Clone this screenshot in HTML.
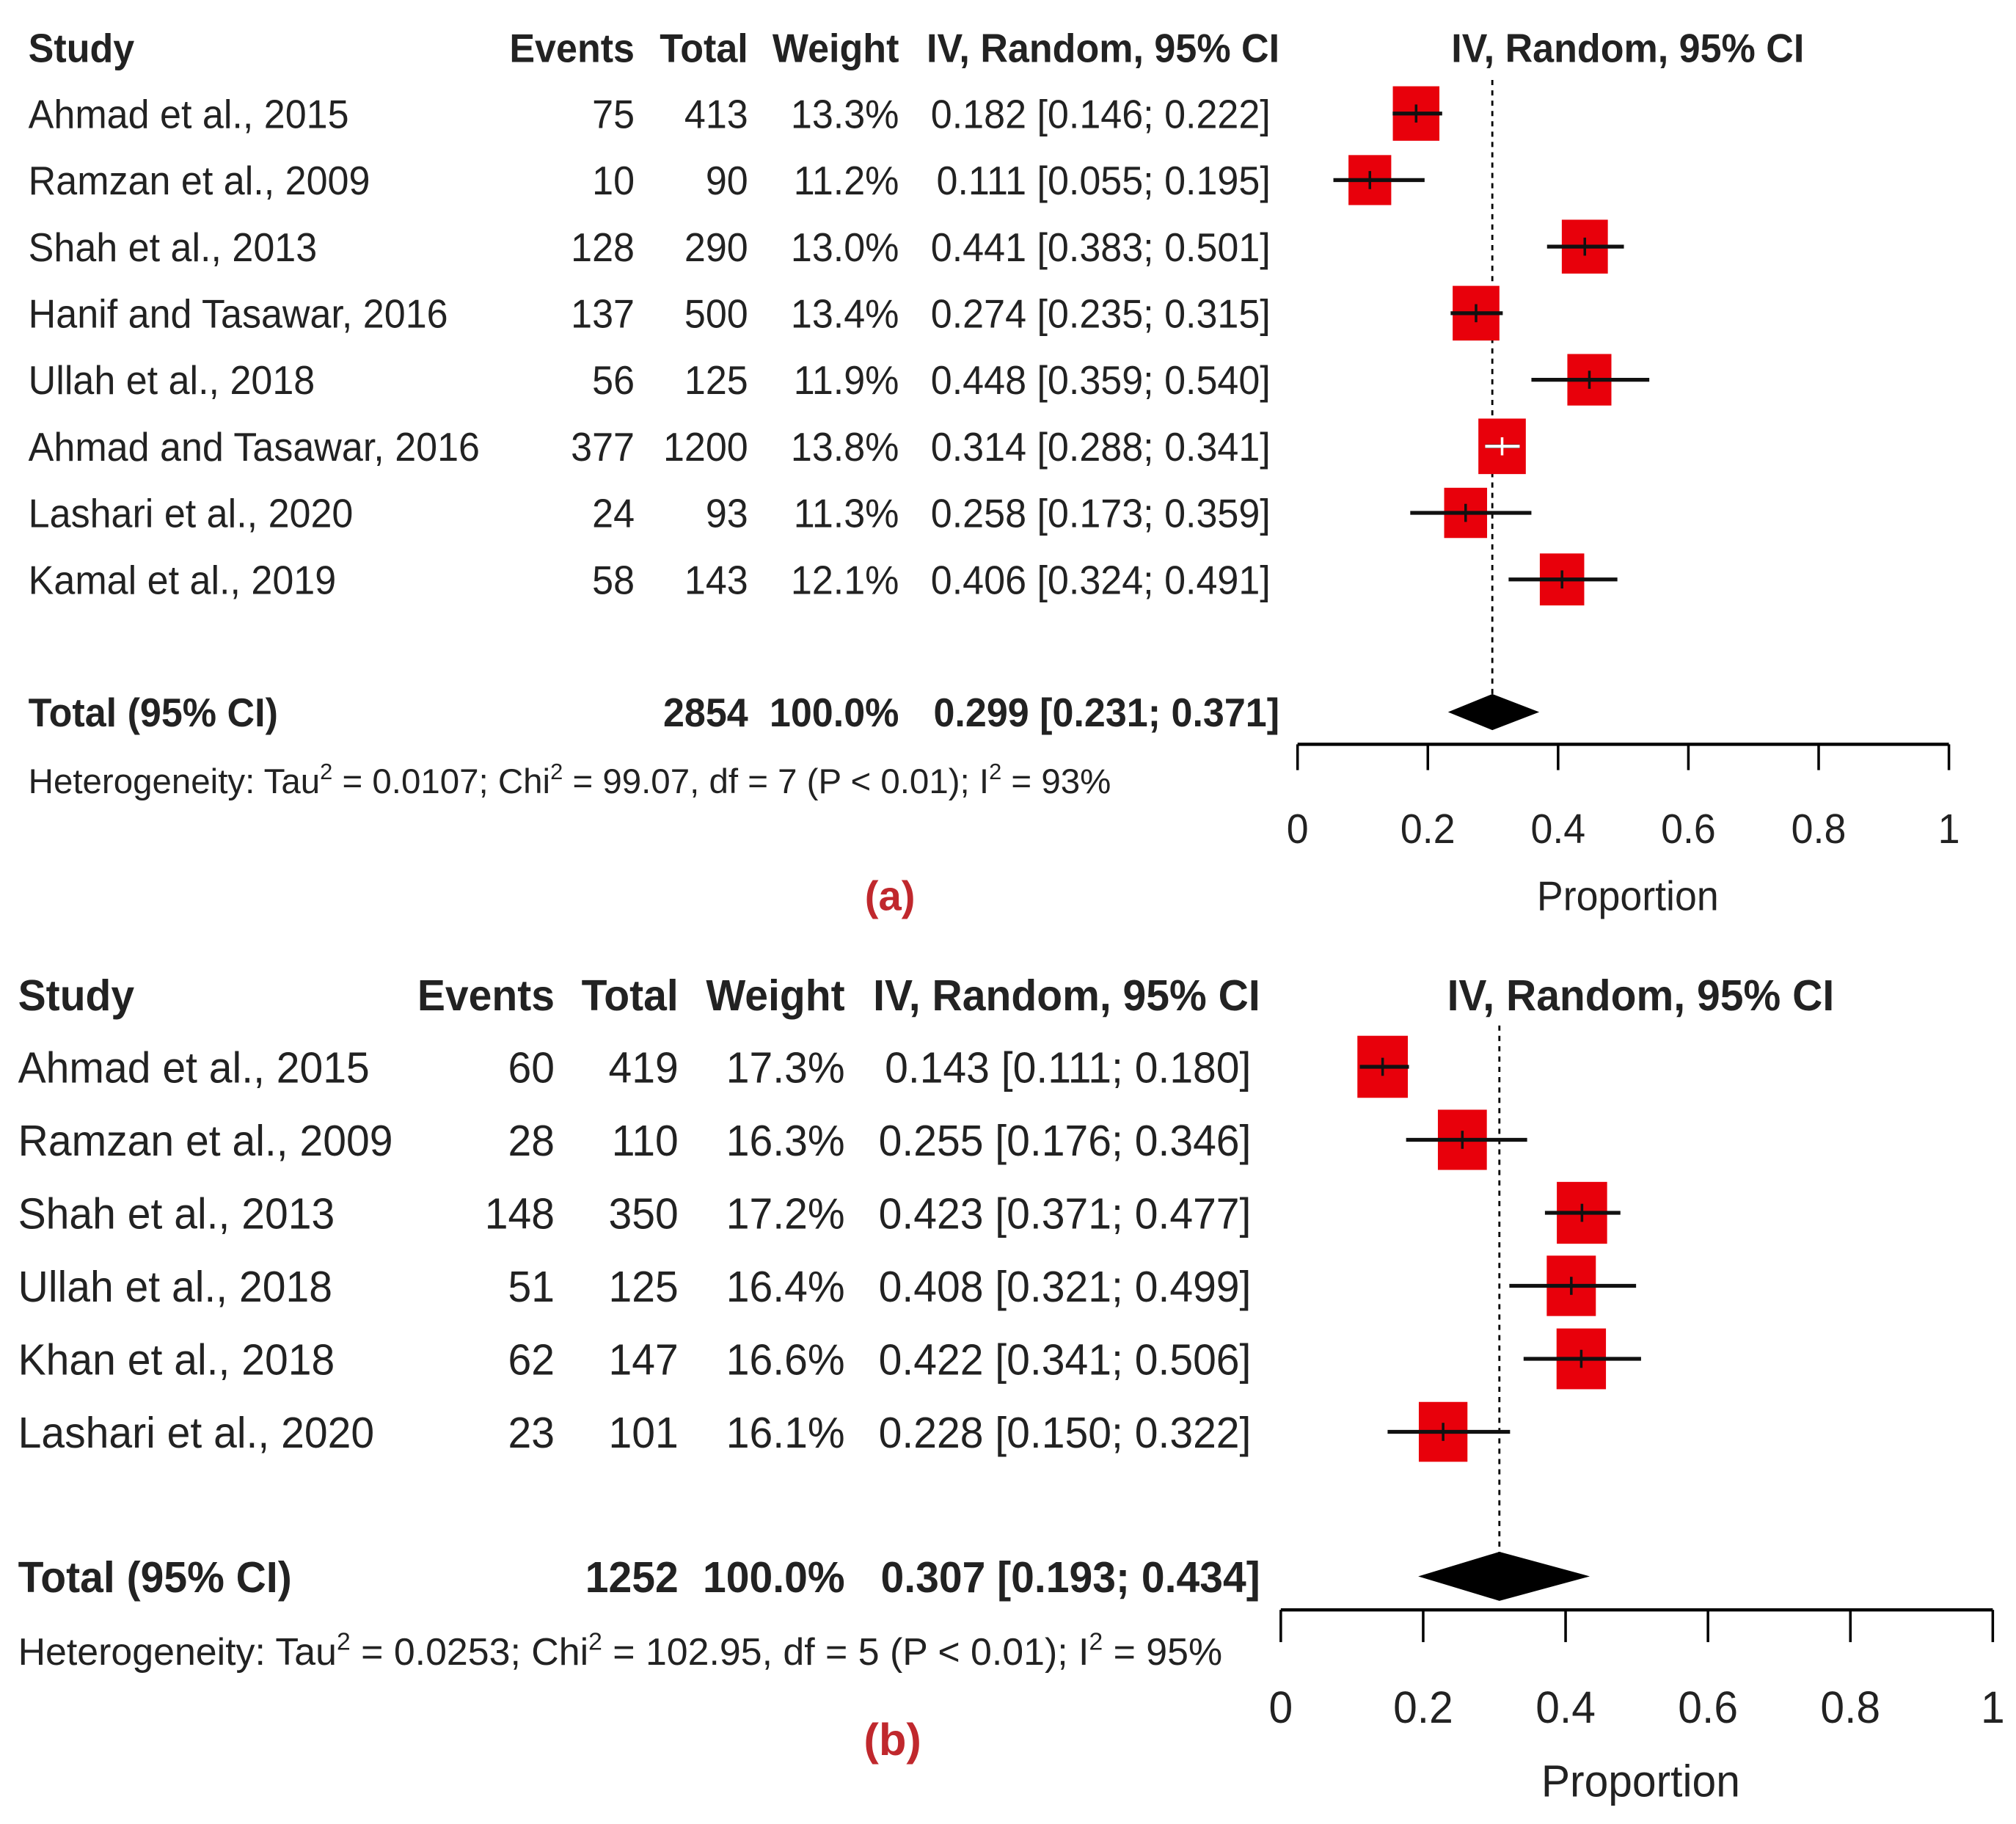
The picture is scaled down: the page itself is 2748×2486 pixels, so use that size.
<!DOCTYPE html>
<html><head><meta charset="utf-8"><style>
html,body{margin:0;padding:0;background:#fff}
svg{display:block}
text{font-family:"Liberation Sans",sans-serif;fill:#222}
.b{font-weight:bold}
</style></head><body>
<svg id="chart" width="2748" height="2486" viewBox="0 0 1563 1414" preserveAspectRatio="none" xmlns="http://www.w3.org/2000/svg">
<g id="pa"></g>
<g id="pb"></g>
</svg>
<script>
// Panel A data
const studiesA = ["Ahmad et al., 2015","Ramzan et al., 2009","Shah et al., 2013","Hanif and Tasawar, 2016","Ullah et al., 2018","Ahmad and Tasawar, 2016","Lashari et al., 2020","Kamal et al., 2019"];
const eventsA = [75,10,128,137,56,377,24,58];
const totalsA = [413,90,290,500,125,1200,93,143];
const weightsA = [13.3,11.2,13.0,13.4,11.9,13.8,11.3,12.1];
const propA = [0.182,0.111,0.441,0.274,0.448,0.314,0.258,0.406];
const lowA = [0.146,0.055,0.383,0.235,0.359,0.288,0.173,0.324];
const highA = [0.222,0.195,0.501,0.315,0.540,0.341,0.359,0.491];
const pooledA = [0.299,0.231,0.371];
const sumA = "2854";
const hetA = ["0.0107","99.07","7","0.01","93"];
// Panel B data
const studiesB = ["Ahmad et al., 2015","Ramzan et al., 2009","Shah et al., 2013","Ullah et al., 2018","Khan et al., 2018","Lashari et al., 2020"];
const eventsB = [60,28,148,51,62,23];
const totalsB = [419,110,350,125,147,101];
const weightsB = [17.3,16.3,17.2,16.4,16.6,16.1];
const propB = [0.143,0.255,0.423,0.408,0.422,0.228];
const lowB = [0.111,0.176,0.371,0.321,0.341,0.150];
const highB = [0.180,0.346,0.477,0.499,0.506,0.322];
const pooledB = [0.307,0.193,0.434];
const sumB = "1252";
const hetB = ["0.0253","102.95","5","0.01","95"];
const ticks = [0,0.2,0.4,0.6,0.8,1];
const tickLabels = ["0","0.2","0.4","0.6","0.8","1"];

const NS="http://www.w3.org/2000/svg";
const K=0.955;
function mk(p,tag,attrs,txt){const e=document.createElementNS(NS,tag);for(const k in attrs)e.setAttribute(k,attrs[k]);if(txt!==undefined)e.textContent=txt;p.appendChild(e);return e;}
function tx(p,x,y,size,anchor,cls,content){
  const a={x:0,y:0,"font-size":size,"text-anchor":anchor,transform:`translate(${x},${y}) scale(${K},1)`};
  if(cls)a["class"]=cls;
  return mk(p,"text",a,content);
}
const f3=v=>v.toFixed(3);

function panel(g,c){
  const xs=v=>c.x0+v*(c.x1-c.x0);
  const ys=i=>c.row0+i*c.rowH;
  const fs=c.fs;
  const hdr=[["Study",c.cStudy,"start"],["Events",c.cEv,"end"],["Total",c.cTot,"end"],["Weight",c.cW,"end"],["IV, Random, 95% CI",c.cCIh,"end"],["IV, Random, 95% CI",c.plotHdr,"middle"]];
  hdr.forEach(h=>{const t=tx(g,h[1],c.hdrY+fs*0.36,fs,h[2],"b",h[0]);
    
    });
  const dl=mk(g,"line",{x1:xs(c.pooled[0]),x2:xs(c.pooled[0]),y1:c.dashTop,y2:c.dashBot,stroke:"#000","stroke-width":1.6,"stroke-dasharray":"4,4"});
  
  
  c.studies.forEach((s,i)=>{
    const y=ys(i);
    const row=mk(g,"g",{});
    
    
    const ty=y+fs*0.36;
    tx(row,c.cStudy,ty,fs,"start","",s);
    tx(row,c.cEv,ty,fs,"end","",c.ev[i]);
    tx(row,c.cTot,ty,fs,"end","",c.tot[i]);
    tx(row,c.cW,ty,fs,"end","",c.w[i].toFixed(1)+"%");
    tx(row,c.cCI,ty,fs,"end","",f3(c.p[i])+" ["+f3(c.lo[i])+"; "+f3(c.hi[i])+"]");
    const sw=c.sq*Math.sqrt(c.w[i]), sh=sw*c.sqAsp;
    const sqr=mk(g,"rect",{x:xs(c.p[i])-sw/2,y:y-sh/2,width:sw,height:sh,fill:"#e8000b"});
    
    
    const ci=mk(g,"line",{x1:xs(c.lo[i]),x2:xs(c.hi[i]),y1:y,y2:y,stroke:"#111","stroke-width":3});
    
    
    const white = (xs(c.lo[i])>xs(c.p[i])-sw/2 && xs(c.hi[i])<xs(c.p[i])+sw/2);
    if(white){mk(g,"line",{x1:xs(c.lo[i]),x2:xs(c.hi[i]),y1:y,y2:y,stroke:"#fff","stroke-width":2.5});}
    mk(g,"line",{x1:xs(c.p[i]),x2:xs(c.p[i]),y1:y-7,y2:y+7,stroke:white?"#fff":"#111","stroke-width":2});
  });
  const tt=c.totY+fs*0.36;
  tx(g,c.cStudy,tt,fs,"start","b","Total (95% CI)");
  tx(g,c.cTot,tt,fs,"end","b",c.sum);
  tx(g,c.cW,tt,fs,"end","b","100.0%");
  tx(g,c.cCIh,tt,fs,"end","b",f3(c.pooled[0])+" ["+f3(c.pooled[1])+"; "+f3(c.pooled[2])+"]");
  const pl=c.pooled;
  const dm=mk(g,"polygon",{points:`${xs(pl[1])},${c.totY} ${xs(pl[0])},${c.totY-c.dh} ${xs(pl[2])},${c.totY} ${xs(pl[0])},${c.totY+c.dh}`,fill:"#000"});
  
  
  const h=c.het, hf=c.hfs;
  const ht=mk(g,"text",{x:c.cStudy,y:c.hetY+hf*0.36,"font-size":hf});
  
  
  const parts=[["Heterogeneity: Tau",0],["2",1],[" = "+h[0]+"; Chi",0],["2",1],[" = "+h[1]+", df = "+h[2]+" (P < "+h[3]+"); I",0],["2",1],[" = "+h[4]+"%",0]];
  parts.forEach(p=>{const ts=mk(ht,"tspan",p[1]?{"font-size":hf*0.65,dy:-hf*0.4}:{dy:0},p[0]);if(p[1]){ts.dataset.sup=1;}});
  const tsp=ht.querySelectorAll("tspan");tsp.forEach((t,k)=>{if(k>0&&tsp[k-1].dataset.sup)t.setAttribute("dy",hf*0.4);});
  const ax=mk(g,"g",{});
  
  
  mk(ax,"line",{x1:xs(0),x2:xs(1),y1:c.axY,y2:c.axY,stroke:"#000","stroke-width":2.5});
  ticks.forEach((t,k)=>{mk(ax,"line",{x1:xs(t),x2:xs(t),y1:c.axY,y2:c.axY+c.tickL,stroke:"#000","stroke-width":2});
    tx(ax,xs(t),c.tlY+c.tfs*0.36,c.tfs,"middle","",tickLabels[k]);});
  const xt=tx(g,c.propX,c.propY+c.tfs*0.36,c.tfs,"middle","","Proportion");
  
  
  const lb=mk(g,"text",{x:c.lblX,y:c.lblY+c.tfs*0.36,"font-size":c.tfs,"text-anchor":"middle",class:"b",style:"fill:#c0282d"},c.lbl);
  
  
}
panel(document.getElementById("pa"),{x0:1006,x1:1511,row0:88,rowH:51.6,fs:31,hfs:27,tfs:32,
  cStudy:22,cEv:492,cTot:580,cW:697,cCI:985,cCIh:992,plotHdr:1262,hdrY:37,
  studies:studiesA,ev:eventsA,tot:totalsA,w:weightsA,p:propA,lo:lowA,hi:highA,pooled:pooledA,sum:sumA,het:hetA,
  sq:9.9,sqAsp:1.17,dashTop:62,dashBot:565,totY:552,dh:14,hetY:605,axY:577,tickL:20,tlY:642,propX:1262,propY:694,lblX:690,lblY:694,lbl:"(a)"});
panel(document.getElementById("pb"),{x0:993,x1:1545,row0:827,rowH:56.6,fs:34,hfs:29.5,tfs:35,
  cStudy:14,cEv:430,cTot:526,cW:655,cCI:970,cCIh:977,plotHdr:1272,hdrY:771,
  studies:studiesB,ev:eventsB,tot:totalsB,w:weightsB,p:propB,lo:lowB,hi:highB,pooled:pooledB,sum:sumB,het:hetB,
  sq:9.4,sqAsp:1.23,dashTop:795,dashBot:1238,totY:1222,dh:19,hetY:1280,axY:1248,tickL:25,tlY:1323,propX:1272,propY:1380,lblX:692,lblY:1348,lbl:"(b)"});
</script>
</body></html>
